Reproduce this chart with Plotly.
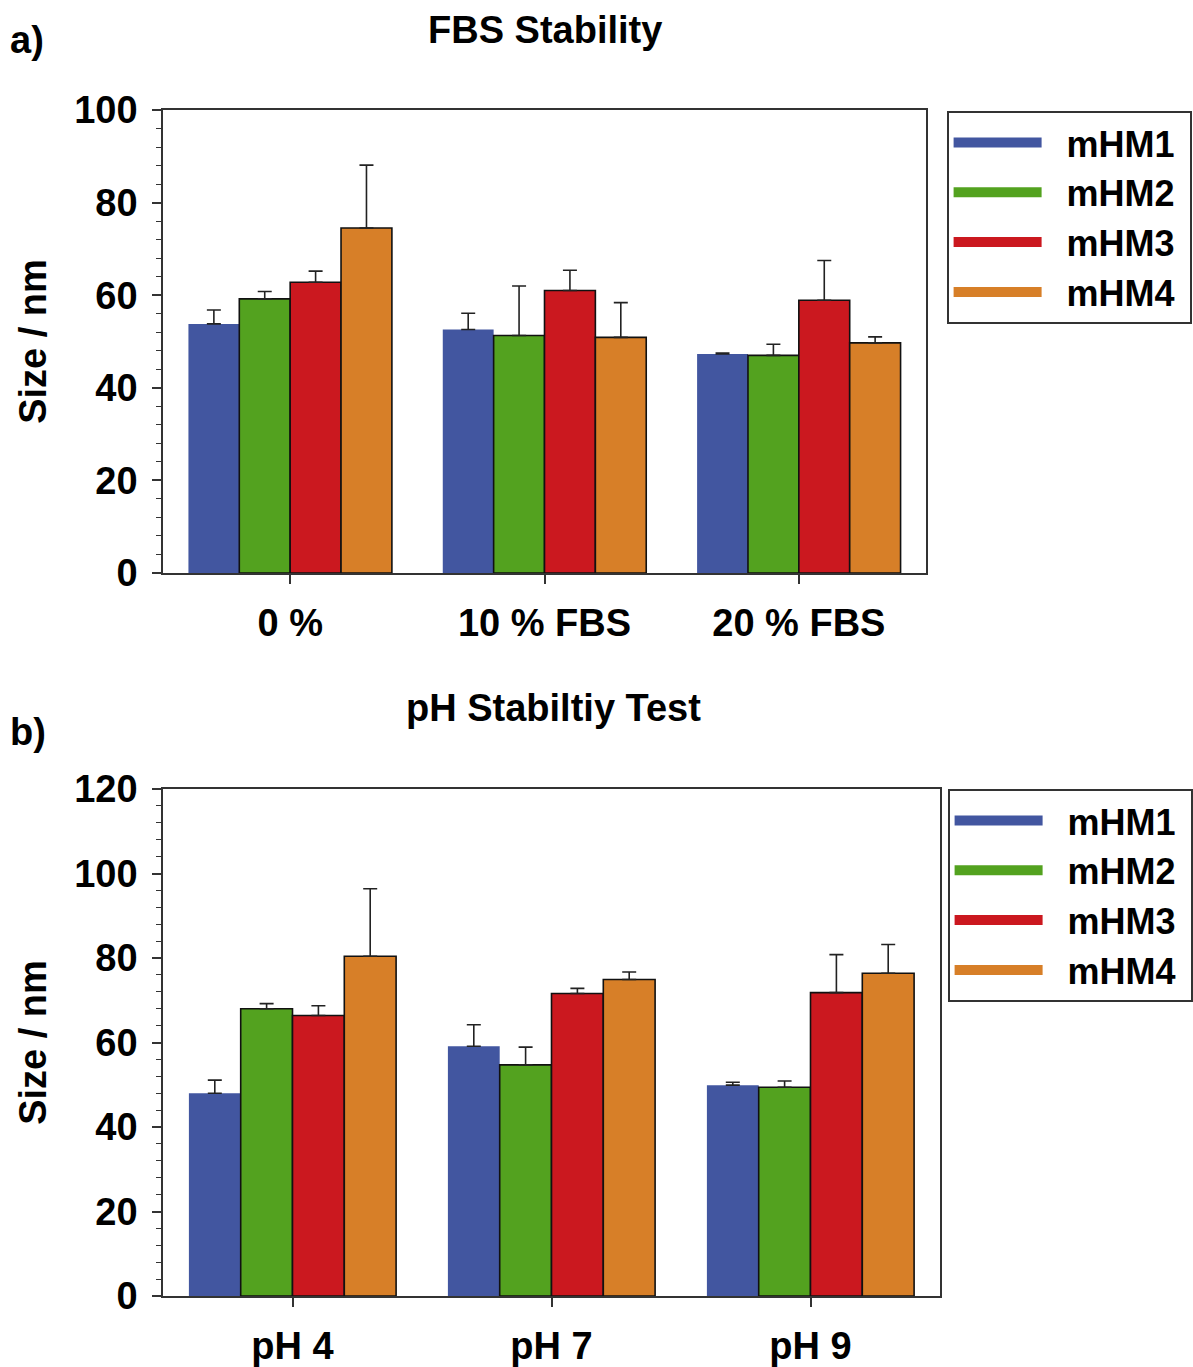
import plotly.graph_objects as go

# ---------------- data ----------------
series = ["mHM1", "mHM2", "mHM3", "mHM4"]
colors = ["#4256A0", "#53A21F", "#CB181F", "#D77F28"]

fbs_categories = ["0 %", "10 % FBS", "20 % FBS"]
fbs_mHM1 = [53.8, 52.6, 47.3]
fbs_mHM2 = [59.2, 51.3, 47.0]
fbs_mHM3 = [62.8, 61.0, 58.9]
fbs_mHM4 = [74.5, 50.9, 49.7]
fbs_err_mHM1 = [3.0, 3.5, 0.2]
fbs_err_mHM2 = [1.6, 10.7, 2.4]
fbs_err_mHM3 = [2.4, 4.4, 8.6]
fbs_err_mHM4 = [13.6, 7.5, 1.3]

ph_categories = ["pH 4", "pH 7", "pH 9"]
ph_mHM1 = [48.0, 59.1, 49.9]
ph_mHM2 = [68.0, 54.7, 49.4]
ph_mHM3 = [66.4, 71.6, 71.8]
ph_mHM4 = [80.4, 74.9, 76.4]
ph_err_mHM1 = [3.1, 5.1, 0.7]
ph_err_mHM2 = [1.2, 4.2, 1.5]
ph_err_mHM3 = [2.3, 1.2, 9.0]
ph_err_mHM4 = [16.0, 1.8, 6.8]

fbs_values = [fbs_mHM1, fbs_mHM2, fbs_mHM3, fbs_mHM4]
fbs_errors = [fbs_err_mHM1, fbs_err_mHM2, fbs_err_mHM3, fbs_err_mHM4]
ph_values = [ph_mHM1, ph_mHM2, ph_mHM3, ph_mHM4]
ph_errors = [ph_err_mHM1, ph_err_mHM2, ph_err_mHM3, ph_err_mHM4]

# ---------------- figure ----------------
W, H = 1193, 1367
FONT = "Liberation Sans, Arial, sans-serif"
FS = 38
LFS = 36
AX = "#333333"

def px_x(p):
    return p / W

def px_y(p):
    return 1 - p / H

fig = go.Figure()

def add_panel(cats, values, errors, xa, ya, legend):
    for i, name in enumerate(series):
        fig.add_trace(go.Bar(
            x=cats, y=values[i], name=name,
            xaxis=xa, yaxis=ya, showlegend=False,
            marker=dict(color=colors[i],
                        line=dict(color="#111111", width=0 if i == 0 else 1.6)),
            error_y=dict(type="data", symmetric=False, array=errors[i],
                         arrayminus=[0] * len(cats), color="#222222",
                         thickness=1.6, width=7),
        ))
    for i, name in enumerate(series):
        fig.add_trace(go.Scatter(
            x=[None], y=[None], mode="lines",
            name="\u00a0\u00a0" + name + "\u00a0",
            xaxis=xa, yaxis=ya, legend=legend,
            line=dict(color=colors[i], width=13),
        ))

add_panel(fbs_categories, fbs_values, fbs_errors, "x", "y", "legend")
add_panel(ph_categories, ph_values, ph_errors, "x2", "y2", "legend2")

tickfont = dict(family=FONT, size=FS, color="black", weight="bold")

xcommon = dict(showline=True, linecolor=AX, linewidth=1.6, mirror=True,
               ticks="outside", ticklen=9, tickwidth=1.5, tickcolor=AX,
               tickfont=tickfont, ticklabelstandoff=7, range=[-0.5, 2.5],
               showgrid=False, zeroline=False, fixedrange=True, automargin=False)
ycommon = dict(showline=True, linecolor=AX, linewidth=1.6, mirror=True,
               ticks="outside", ticklen=9, tickwidth=1.5, tickcolor=AX,
               tickfont=tickfont, ticklabelstandoff=7, dtick=20,
               minor=dict(dtick=4, ticks="outside", ticklen=5, tickwidth=1.3,
                          tickcolor=AX, showgrid=False),
               showgrid=False, zeroline=False, automargin=False,
               title=dict(text="Size / nm", font=tickfont, standoff=16))

legfont = dict(family=FONT, size=LFS, color="black", weight="bold")
annfont = dict(family=FONT, size=FS, color="black", weight="bold")

fig.update_layout(
    width=W, height=H,
    margin=dict(l=0, r=0, t=0, b=0),
    paper_bgcolor="white", plot_bgcolor="white",
    barmode="group", bargap=0.2, bargroupgap=0,
    font=dict(family=FONT, color="black"),
    xaxis=dict(domain=[px_x(163), px_x(926)], anchor="y", **xcommon),
    yaxis=dict(domain=[px_y(573), px_y(110)], anchor="x", range=[0, 100], **ycommon),
    xaxis2=dict(domain=[px_x(163), px_x(940)], anchor="y2", **xcommon),
    yaxis2=dict(domain=[px_y(1296), px_y(789)], anchor="x2", range=[0, 120], **ycommon),
    legend=dict(x=px_x(1192), y=px_y(111), xanchor="right", yanchor="top",
                bordercolor=AX, borderwidth=1.6, bgcolor="white",
                font=legfont, itemwidth=88, tracegroupgap=0),
    legend2=dict(x=1, y=px_y(789), xanchor="right", yanchor="top",
                 bordercolor=AX, borderwidth=1.6, bgcolor="white",
                 font=legfont, itemwidth=88, tracegroupgap=0),
    annotations=[
        dict(text="FBS Stability", x=px_x(545), y=px_y(30), xref="paper", yref="paper",
             showarrow=False, xanchor="center", yanchor="middle", font=annfont),
        dict(text="pH Stabiltiy Test", x=px_x(553), y=px_y(708), xref="paper", yref="paper",
             showarrow=False, xanchor="center", yanchor="middle", font=annfont),
        dict(text="a)", x=px_x(8), y=px_y(40), xref="paper", yref="paper",
             showarrow=False, xanchor="left", yanchor="middle", font=annfont),
        dict(text="b)", x=px_x(8), y=px_y(732), xref="paper", yref="paper",
             showarrow=False, xanchor="left", yanchor="middle", font=annfont),
    ],
)

fig.write_html("out.html", config={"displayModeBar": False},
               post_script="document.body.style.margin='0';")
